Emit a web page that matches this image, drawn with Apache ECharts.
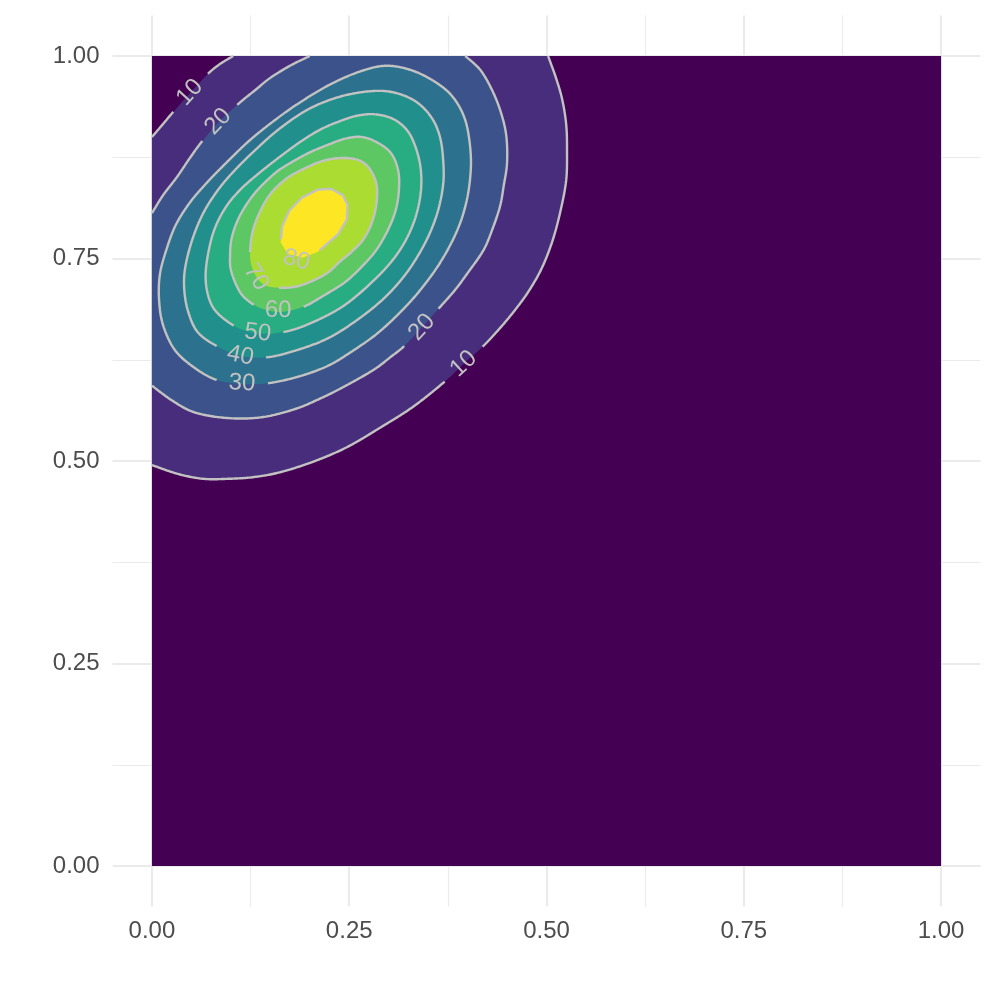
<!DOCTYPE html>
<html>
<head>
<meta charset="utf-8">
<style>
  html, body { margin: 0; padding: 0; background: #fff; }
  #chart { width: 996px; height: 996px; }
</style>
<script src="https://cdn.jsdelivr.net/npm/echarts@6/dist/echarts.min.js"></script>
</head>
<body>
<div id="chart"></div>
<script>
// contour levels and viridis band colours (band i lies between levels i-1 and i)
const levels = [10, 20, 30, 40, 50, 60, 70, 80]
const bandColors = ['#440154', '#472D7B', '#3B528B', '#2C728E', '#21908C', '#27AD81', '#5DC863', '#AADC32', '#FDE725']
const breaks = [0, 0.25, 0.5, 0.75, 1]
const minorBreaks = [0.125, 0.375, 0.625, 0.875]
const square = [[0, 0], [1, 0], [1, 1], [0, 1]]

// contour traces [x, y]
const c10a = [[0, 0.900], [0.014, 0.916], [0.027, 0.931], [0.048, 0.954], [0.071, 0.978], [0.086, 0.990], [0.103, 1]]
const c10b = [[0.502, 1], [0.512, 0.973], [0.520, 0.946], [0.525, 0.915], [0.526, 0.884], [0.525, 0.847], [0.518, 0.810],
  [0.508, 0.773], [0.494, 0.738], [0.477, 0.709], [0.459, 0.685], [0.441, 0.664], [0.420, 0.642], [0.395, 0.620],
  [0.371, 0.598], [0.331, 0.567], [0.289, 0.541], [0.247, 0.517], [0.204, 0.499], [0.162, 0.486], [0.128, 0.480],
  [0.096, 0.478], [0.065, 0.478], [0.033, 0.484], [0, 0.495]]
const c20a = [[0, 0.806], [0.014, 0.828], [0.032, 0.851], [0.048, 0.874], [0.063, 0.894], [0.086, 0.920], [0.112, 0.943],
  [0.131, 0.958], [0.150, 0.973], [0.175, 0.988], [0.200, 1]]
const c20b = [[0.397, 1], [0.416, 0.983], [0.431, 0.958], [0.442, 0.931], [0.449, 0.902], [0.450, 0.868], [0.446, 0.841],
  [0.441, 0.814], [0.431, 0.785], [0.420, 0.760], [0.400, 0.732], [0.384, 0.711], [0.365, 0.690], [0.342, 0.665],
  [0.321, 0.643], [0.302, 0.628], [0.280, 0.612], [0.242, 0.591], [0.213, 0.577], [0.181, 0.564], [0.139, 0.554],
  [0.096, 0.553], [0.054, 0.560], [0.025, 0.575], [0, 0.593]]
const c30 = [[0.298, 0.988], [0.333, 0.981], [0.365, 0.964], [0.384, 0.946], [0.397, 0.921], [0.403, 0.890], [0.404, 0.859],
  [0.399, 0.822], [0.387, 0.785], [0.366, 0.746], [0.340, 0.711], [0.314, 0.683], [0.285, 0.657], [0.253, 0.635],
  [0.222, 0.617], [0.185, 0.604], [0.147, 0.596], [0.114, 0.595], [0.082, 0.600], [0.054, 0.615], [0.029, 0.637],
  [0.014, 0.668], [0.009, 0.699], [0.010, 0.730], [0.018, 0.760], [0.030, 0.791], [0.048, 0.819], [0.070, 0.844],
  [0.095, 0.869], [0.124, 0.896], [0.156, 0.921], [0.188, 0.943], [0.226, 0.965], [0.264, 0.981]]
const c40 = [[0.289, 0.957], [0.314, 0.953], [0.337, 0.942], [0.355, 0.923], [0.365, 0.900], [0.369, 0.872], [0.369, 0.841],
  [0.361, 0.804], [0.345, 0.767], [0.321, 0.730], [0.292, 0.699], [0.257, 0.672], [0.222, 0.651], [0.184, 0.637],
  [0.146, 0.628], [0.112, 0.630], [0.082, 0.642], [0.058, 0.659], [0.046, 0.684], [0.041, 0.711], [0.042, 0.738],
  [0.051, 0.773], [0.065, 0.806], [0.084, 0.835], [0.105, 0.859], [0.131, 0.884], [0.160, 0.909], [0.194, 0.932],
  [0.226, 0.946], [0.257, 0.954]]
const c50 = [[0.283, 0.928], [0.304, 0.923], [0.321, 0.911], [0.332, 0.893], [0.340, 0.865], [0.341, 0.835], [0.335, 0.804],
  [0.323, 0.775], [0.305, 0.748], [0.279, 0.721], [0.245, 0.693], [0.210, 0.674], [0.175, 0.661], [0.143, 0.657],
  [0.118, 0.661], [0.099, 0.670], [0.080, 0.686], [0.071, 0.705], [0.068, 0.730], [0.072, 0.760], [0.080, 0.788],
  [0.094, 0.814], [0.112, 0.835], [0.134, 0.854], [0.160, 0.874], [0.188, 0.894], [0.215, 0.910], [0.245, 0.922],
  [0.264, 0.927]]
const c60 = [[0.245, 0.898], [0.266, 0.900], [0.286, 0.893], [0.303, 0.880], [0.312, 0.859], [0.313, 0.835], [0.309, 0.810],
  [0.299, 0.785], [0.284, 0.760], [0.266, 0.740], [0.245, 0.721], [0.219, 0.705], [0.191, 0.690], [0.162, 0.684],
  [0.137, 0.689], [0.118, 0.701], [0.108, 0.715], [0.100, 0.736], [0.099, 0.754], [0.101, 0.775], [0.109, 0.798],
  [0.122, 0.820], [0.137, 0.838], [0.158, 0.857], [0.179, 0.870], [0.200, 0.881], [0.222, 0.890]]
const c70 = [[0.238, 0.874], [0.260, 0.872], [0.274, 0.863], [0.284, 0.844], [0.285, 0.822], [0.280, 0.798], [0.269, 0.775],
  [0.255, 0.760], [0.238, 0.746], [0.222, 0.732], [0.200, 0.721], [0.181, 0.715], [0.160, 0.714], [0.143, 0.717],
  [0.132, 0.728], [0.125, 0.746], [0.125, 0.767], [0.129, 0.788], [0.139, 0.812], [0.152, 0.832], [0.171, 0.849],
  [0.191, 0.860], [0.215, 0.870]]
const c80 = [[0.210, 0.835], [0.227, 0.836], [0.242, 0.828], [0.248, 0.816], [0.247, 0.798], [0.236, 0.780], [0.223, 0.769],
  [0.210, 0.758], [0.191, 0.751], [0.172, 0.756], [0.163, 0.770], [0.165, 0.790], [0.174, 0.809], [0.190, 0.825]]

// [x, y, level] of each inline label
const contourLabels = [[0.048, 0.955, 10], [0.084, 0.919, 20], [0.342, 0.665, 20], [0.395, 0.620, 10],
  [0.114, 0.596, 30], [0.112, 0.630, 40], [0.134, 0.658, 50], [0.160, 0.686, 60], [0.132, 0.727, 70], [0.183, 0.748, 80]]

// each level's pieces; open pieces end on the panel edge
const linePieces = [
  { level: 10, pts: c10a, closed: false, smooth: true },
  { level: 10, pts: c10b, closed: false, smooth: true },
  { level: 20, pts: c20a, closed: false, smooth: true },
  { level: 20, pts: c20b, closed: false, smooth: true },
  { level: 30, pts: c30, closed: true, smooth: true },
  { level: 40, pts: c40, closed: true, smooth: true },
  { level: 50, pts: c50, closed: true, smooth: true },
  { level: 60, pts: c60, closed: true, smooth: true },
  { level: 70, pts: c70, closed: true, smooth: true },
  { level: 80, pts: c80, closed: true, smooth: false },
]

const LINE_COLOR = '#C2C2C2'
const FONT = 'Liberation Sans, Arial, sans-serif'
const GAP = 25

// catmull-rom through the traced points, in pixel space
function catmull(px, closed) {
  const n = px.length
  const get = i => closed ? px[(i + n) % n] : px[Math.max(0, Math.min(n - 1, i))]
  const out = []
  const segs = closed ? n : n - 1
  for (let i = 0; i < segs; i++) {
    const p0 = get(i - 1), p1 = get(i), p2 = get(i + 1), p3 = get(i + 2)
    for (let k = 0; k < 8; k++) {
      const t = k / 8, t2 = t * t, t3 = t2 * t
      out.push([0, 1].map(d => 0.5 * (2 * p1[d] + (-p0[d] + p2[d]) * t +
        (2 * p0[d] - 5 * p1[d] + 4 * p2[d] - p3[d]) * t2 + (-p0[d] + 3 * p1[d] - 3 * p2[d] + p3[d]) * t3)))
    }
  }
  out.push(closed ? px[0] : px[n - 1])
  return out
}

function pixelPath(api, piece) {
  const px = piece.pts.map(p => api.coord(p))
  if (piece.smooth) return catmull(px, piece.closed)
  if (piece.closed) px.push(px[0])
  return px
}

function densify(px) {
  const out = [px[0]]
  for (let i = 1; i < px.length; i++) {
    const a = px[i - 1], b = px[i]
    const n = Math.max(1, Math.ceil(Math.hypot(b[0] - a[0], b[1] - a[1]) / 1.5))
    for (let k = 1; k <= n; k++) out.push([a[0] + (b[0] - a[0]) * k / n, a[1] + (b[1] - a[1]) * k / n])
  }
  return out
}

function renderBand(params, api) {
  const i = params.dataIndex
  let pts
  if (i === 0) pts = square.map(p => api.coord(p))
  else pts = [].concat(...linePieces.filter(p => p.level === levels[i - 1]).map(p => pixelPath(api, p)))
  return { type: 'polygon', z2: i, shape: { points: pts }, style: { fill: bandColors[i] } }
}

function renderLine(params, api) {
  const piece = linePieces[params.dataIndex]
  const centers = contourLabels.filter(l => l[2] === piece.level).map(l => api.coord([l[0], l[1]]))
  const pts = densify(pixelPath(api, piece))
  const runs = []
  let cur = []
  pts.forEach(p => {
    const hidden = centers.some(c => Math.hypot(p[0] - c[0], p[1] - c[1]) < GAP)
    if (hidden) {
      if (cur.length > 1) runs.push(cur)
      cur = []
    } else cur.push(p)
  })
  if (cur.length > 1) runs.push(cur)
  return {
    type: 'group',
    children: runs.map(r => ({
      type: 'polyline',
      shape: { points: r },
      style: { stroke: LINE_COLOR, lineWidth: 2.4, fill: null, lineJoin: 'round' },
    })),
  }
}

function renderLabel(params, api) {
  const level = api.value(2)
  const c = api.coord([api.value(0), api.value(1)])
  let best = Infinity, ang = 0
  linePieces.filter(p => p.level === level).forEach(piece => {
    const px = pixelPath(api, piece)
    for (let i = 1; i < px.length; i++) {
      const a = px[i - 1], b = px[i]
      const dx = b[0] - a[0], dy = b[1] - a[1]
      if (dx === 0 && dy === 0) continue
      const t = Math.max(0, Math.min(1, ((c[0] - a[0]) * dx + (c[1] - a[1]) * dy) / (dx * dx + dy * dy)))
      const d = Math.hypot(a[0] + t * dx - c[0], a[1] + t * dy - c[1])
      if (d < best) { best = d; ang = Math.atan2(-dy, dx) }
    }
  })
  while (ang > Math.PI / 2) ang -= Math.PI
  while (ang <= -Math.PI / 2) ang += Math.PI
  return {
    type: 'text',
    x: c[0], y: c[1], rotation: ang,
    style: { text: String(level), fill: LINE_COLOR, fontSize: 24, fontFamily: FONT, align: 'center', verticalAlign: 'middle' },
  }
}

const axisText = { color: '#4D4D4D', fontSize: 24, fontFamily: FONT }
const majorLine = { show: true, lineStyle: { color: '#EBEBEB', width: 2.2 } }
const minorLine = { show: true, lineStyle: { color: '#EBEBEB', width: 1.1 } }

function axes(dim) {
  const main = dim === 'x' ? 'bottom' : 'left'
  const other = dim === 'x' ? 'top' : 'right'
  return [
    {
      type: 'value', min: -0.05, max: 1.05, position: main,
      axisLine: { show: false },
      axisTick: { show: false, customValues: breaks },
      axisLabel: { ...axisText, customValues: breaks, margin: 13, formatter: v => v.toFixed(2) },
      splitLine: majorLine,
    },
    {
      type: 'value', min: -0.05, max: 1.05, position: other,
      axisLine: { show: false },
      axisTick: { show: false, customValues: minorBreaks },
      axisLabel: { show: false, customValues: minorBreaks },
      splitLine: minorLine,
    },
  ]
}

const chart = echarts.init(document.getElementById('chart'), null, { renderer: 'canvas' })
chart.setOption({
  animation: false,
  backgroundColor: '#ffffff',
  grid: { left: 112.5, right: 15.5, top: 15.5, bottom: 89.5, containLabel: false, outerBoundsMode: 'none' },
  xAxis: axes('x'),
  yAxis: axes('y'),
  series: [
    {
      type: 'custom', coordinateSystem: 'cartesian2d', xAxisIndex: 0, yAxisIndex: 0, silent: true, z: 2,
      data: bandColors.map((c, i) => (i === 0 ? square[0] : linePieces.find(p => p.level === levels[i - 1]).pts[0])),
      renderItem: renderBand,
    },
    {
      type: 'custom', coordinateSystem: 'cartesian2d', xAxisIndex: 0, yAxisIndex: 0, silent: true, z: 3,
      data: linePieces.map(p => p.pts[0]),
      renderItem: renderLine,
    },
    {
      type: 'custom', coordinateSystem: 'cartesian2d', xAxisIndex: 0, yAxisIndex: 0, silent: true, z: 4,
      data: contourLabels,
      renderItem: renderLabel,
    },
  ],
})
window.addEventListener('resize', () => chart.resize())
</script>
</body>
</html>
